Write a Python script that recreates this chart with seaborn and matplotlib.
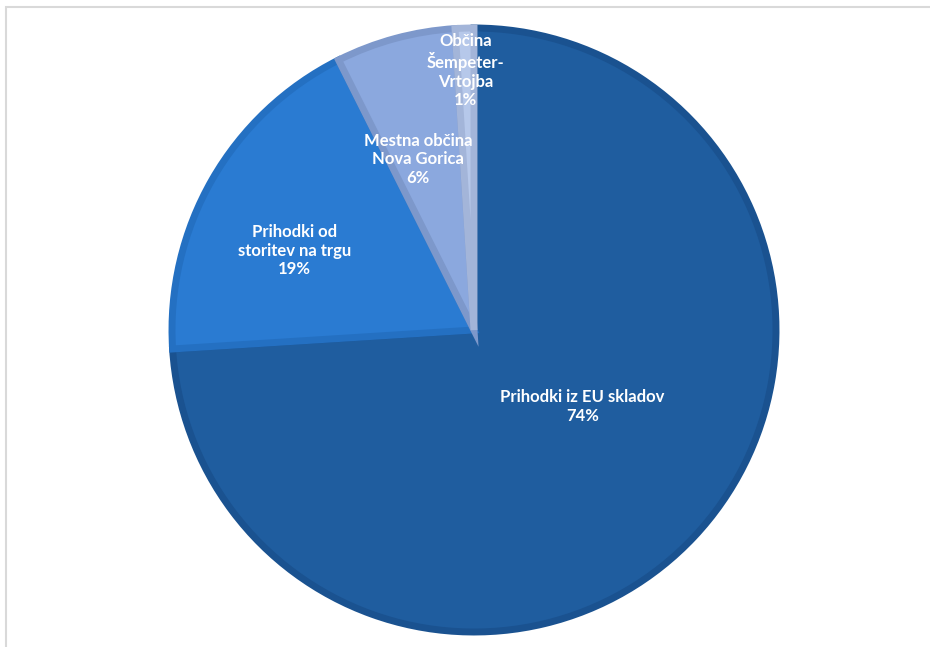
import numpy as np
import seaborn as sns
import matplotlib.pyplot as plt
from matplotlib.patches import Rectangle

# Deleži prihodkov (v %)
kategorije = ['Prihodki iz EU skladov', 'Prihodki od\nstoritev na trgu',
              'Mestna občina\nNova Gorica', 'Občina\nŠempeter-\nVrtojba']
vrednosti = [74.0, 18.6, 6.4, 1.0]

barve = ['#1f5d9f', '#2a7bd2', '#8ba8de', '#b6c8ea']
robovi = ['#1a5290', '#2470c2', '#7d98cb', '#a3b5d9']
# položaj napisa: razdalja od središča (delež polmera) in zamik kota
razdalje = [0.44, 0.65, 0.595, 0.86]
zamiki = [8, 6, 3, 0]

sns.set_theme(style='white')
plt.rcParams['font.family'] = ['Lato', 'DejaVu Sans']

W, H = 930, 647
cx, cy, r = 474, 330, 302
fig = plt.figure(figsize=(W / 100, H / 100), dpi=100)
ax = fig.add_axes([(cx - r) / W, (H - cy - r) / H, 2 * r / W, 2 * r / H])

wedges, _ = ax.pie(vrednosti, colors=barve, startangle=90, counterclock=False,
                   radius=1, wedgeprops=dict(linewidth=5))
for w, ec in zip(wedges, robovi):
    w.set_edgecolor(ec)
    w.set_clip_path(w)

skupaj = sum(vrednosti)
for w, ime, v, d, z in zip(wedges, kategorije, vrednosti, razdalje, zamiki):
    kot = np.deg2rad((w.theta1 + w.theta2) / 2 + z)
    ax.text(d * np.cos(kot), d * np.sin(kot), f'{ime}\n{v / skupaj * 100:.0f}%',
            ha='center', va='center', color='white', fontsize=12,
            fontweight='bold', linespacing=1.2)

ax.set_xlim(-1, 1)
ax.set_ylim(-1, 1)
ax.axis('off')

# okvir grafikona
fig.patches.append(Rectangle((6 / W, -0.1), 1.2, 1 - 7 / H + 0.1, transform=fig.transFigure,
                             fill=False, edgecolor='#d9d9d9', linewidth=1.5, zorder=0))

fig.savefig('out.png', dpi=100)
